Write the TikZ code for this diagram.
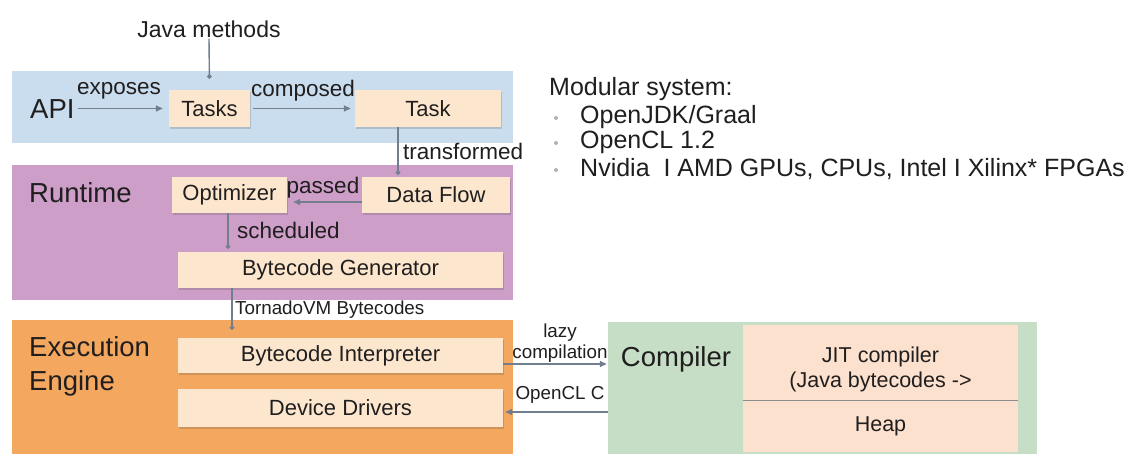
\documentclass[tikz,border=0pt]{standalone}
\usepackage{fontspec}
\setmainfont{Liberation Sans}
\usetikzlibrary{arrows.meta,shadows}
\definecolor{apiblue}{RGB}{202,221,238}
\definecolor{rtpink}{RGB}{205,158,199}
\definecolor{exorange}{RGB}{243,167,95}
\definecolor{cgreen}{RGB}{198,221,198}
\definecolor{peach}{RGB}{252,231,206}
\definecolor{jitpeach}{RGB}{252,226,206}
\definecolor{ink}{RGB}{32,30,30}
\definecolor{linec}{RGB}{112,126,142}
\begin{document}
\begin{tikzpicture}[x=1pt,y=-1pt,
  layer/.style={rectangle, draw=none, inner sep=0pt},
  inbox/.style={rectangle, fill=peach, inner sep=0pt, text=ink,
    font=\fontsize{22}{26}\selectfont,
    drop shadow={shadow xshift=0.8pt, shadow yshift=-1.6pt, opacity=0.22, fill=black!70}},
  cbox/.style={rectangle, fill=jitpeach, inner sep=0pt, text=ink,
    font=\fontsize{21.5}{25}\selectfont},
  title/.style={text=ink, inner sep=0pt, font=\fontsize{27.5}{34}\selectfont},
  lbl/.style={text=ink, inner sep=0pt, font=\fontsize{22.5}{26}\selectfont},
  small/.style={text=ink, inner sep=0pt, font=\fontsize{18.8}{16}\selectfont},
  rt/.style={text=ink, inner sep=0pt, anchor=west, font=\fontsize{25}{30}\selectfont},
  bul/.style={circle, fill=black!30, draw=none, inner sep=0pt, minimum size=4pt},
  conn/.style={draw=linec, line width=1.4pt},
  harrow/.style={conn, -{Triangle[length=7pt,width=6pt]}},
  varrow/.style={conn, -{Circle[length=4.5pt]}},
]
\useasboundingbox (0,0) rectangle (1135,454);
\fill[white] (0,0) rectangle (1135,454);

% layers
\node[layer, fill=apiblue, minimum width=501pt, minimum height=72pt] (apil) at (262.5,107) {};
\node[layer, fill=rtpink, minimum width=501pt, minimum height=135pt] (rtl) at (262.5,232.5) {};
\node[layer, fill=exorange, minimum width=501pt, minimum height=134pt] (exl) at (262.5,387) {};
\node[layer, fill=cgreen, minimum width=429pt, minimum height=132pt] (cpl) at (822.5,388) {};

% titles
\node[title, anchor=west] (apit) at (30,109) {API};
\node[title, anchor=west] (rtt) at (29,193) {Runtime};
\node[title, anchor=north west, align=left] (ext) at (29,336) {Execution\\Engine};
\node[title] (cpt) at (676,359) {Compiler};

% inner boxes
\node[inbox, minimum width=81pt, minimum height=37pt] (tasks) at (209.5,108.5) {Tasks};
\node[inbox, minimum width=146pt, minimum height=37pt] (task) at (428,108.5) {Task};
\node[inbox, minimum width=115pt, minimum height=36pt] (opt) at (229.5,195) {Optimizer};
\node[inbox, minimum width=148pt, minimum height=36pt] (df) at (436,195) {Data Flow};
\node[inbox, minimum width=325pt, minimum height=36pt] (bg) at (340.5,270) {Bytecode Generator};
\node[inbox, minimum width=325pt, minimum height=35pt] (bi) at (340.5,355.5) {Bytecode Interpreter};
\node[inbox, minimum width=325pt, minimum height=38pt] (dd) at (340.5,408) {Device Drivers};
\node[cbox, minimum width=275pt, minimum height=75pt] (jit) at (880.5,362.5) {};
\node[cbox, minimum width=275pt, minimum height=52pt] (heap) at (880.5,426) {Heap};
\draw[draw=black!45, line width=1pt] (jit.south west) -- (jit.south east);
\node[cbox, fill=none, align=center] (jitt) at (880.5,369) {JIT compiler\\(Java bytecodes ->};

% top label
\node[lbl, font=\fontsize{23}{27}\selectfont] (jm) at (209,29) {Java methods};

% connector helper coordinates
\coordinate (tx) at (398,0);
\coordinate (py) at (0,202);
\coordinate (sx) at (228,0);
\coordinate (tvx) at (232,0);
\coordinate (ly) at (0,364);
\coordinate (oy) at (0,412);

% connectors
\draw[varrow, shorten <=1pt, shorten >=11pt] (jm.south) -- (tasks.north);
\draw[harrow, shorten <=3pt, shorten >=6pt] (apit.east |- tasks.west) -- (tasks.west);
\draw[harrow, shorten <=3pt, shorten >=4pt] (tasks.east) -- (task.west);
\draw[varrow, shorten >=2pt] (task.south -| tx) -- (df.north -| tx);
\draw[harrow, shorten >=6pt] (df.west |- py) -- (opt.east |- py);
\draw[varrow, shorten >=3pt] (opt.south -| sx) -- (bg.north -| sx);
\draw[varrow, shorten >=8pt] (bg.south -| tvx) -- (bi.north -| tvx);
\draw[harrow, shorten >=1pt] (bi.east |- ly) -- (cpl.west |- ly);
\draw[harrow, shorten >=2pt] (cpl.west |- oy) -- (dd.east |- oy);

% connector labels
\node[lbl] (lexp) at (119,91) {exposes};
\node[lbl] (lcmp) at (303,91) {composed};
\node[lbl, anchor=west] (ltr) at (403,151.5) {transformed};
\node[lbl] (lpas) at (323,188) {passed};
\node[lbl, anchor=west] (lsch) at (237,230) {scheduled};
\node[small, anchor=west] (ltv) at (235,310) {TornadoVM Bytecodes};
\node[small, align=center] (llazy) at (560,343) {lazy\\[2pt]compilation};
\node[small] (locl) at (560,395) {OpenCL C};

% right text
\node[rt] (mod) at (549,89) {Modular system:};
\node[bul] (d1) at (556,118) {};
\node[bul] (d2) at (556,143) {};
\node[bul] (d3) at (556,170) {};
\node[rt] (b1) at (580,117) {OpenJDK/Graal};
\node[rt] (b2) at (580,142) {OpenCL 1.2};
\node[rt] (b3) at (580,169) {Nvidia\ \ I AMD GPUs, CPUs, Intel I Xilinx* FPGAs};
\end{tikzpicture}
\end{document}
